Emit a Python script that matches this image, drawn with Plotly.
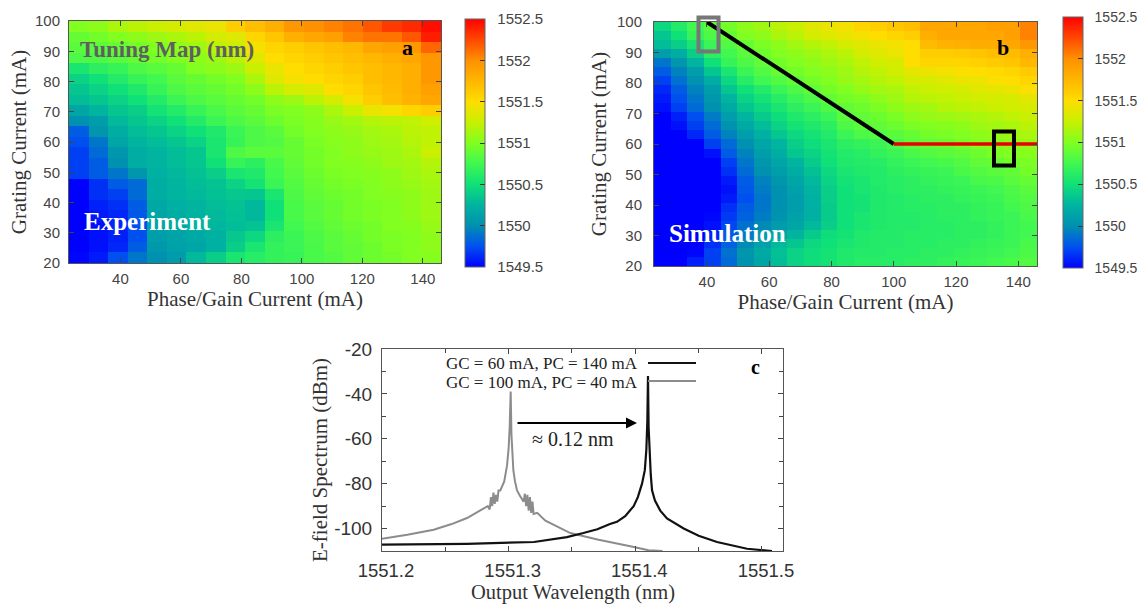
import numpy as np
import plotly.graph_objects as go

W, H = 1142, 604
BASE = 1550.0

# Panel a: offsets from 1550 nm, top row (100 mA) first
exp_rows = [
 [1.0,1.05,1.15,1.2,1.25,1.3,1.35,1.4,1.6,1.7,1.8,1.95,2.0,2.05,2.1,2.2,2.3,2.35,2.45],
 [.9,.95,1.0,1.05,1.1,1.15,1.2,1.3,1.35,1.55,1.65,1.8,1.85,1.9,2.05,2.1,2.1,2.2,2.4],
 [.85,.85,.9,.95,1.0,1.05,1.1,1.2,1.25,1.45,1.55,1.6,1.65,1.7,1.75,1.85,1.9,1.95,2.15],
 [.8,.8,.85,.9,.95,1.0,1.05,1.1,1.2,1.35,1.5,1.55,1.6,1.65,1.7,1.75,1.8,1.85,1.95],
 [.55,.65,.7,.8,.85,.9,1.0,1.05,1.1,1.25,1.4,1.5,1.55,1.6,1.65,1.7,1.75,1.8,1.95],
 [.42,.5,.6,.7,.75,.85,.9,.95,1.0,1.15,1.35,1.45,1.5,1.55,1.6,1.7,1.75,1.8,1.95],
 [.35,.42,.5,.58,.7,.8,.85,.9,.95,1.05,1.2,1.3,1.35,1.5,1.55,1.65,1.72,1.8,1.9],
 [.3,.35,.42,.5,.6,.72,.8,.85,.9,.95,1.05,1.1,1.2,1.3,1.45,1.6,1.7,1.78,1.85],
 [.15,.25,.35,.4,.52,.6,.7,.78,.85,.9,.98,1.0,1.05,1.15,1.25,1.4,1.45,1.55,1.6],
 [.0,.1,.28,.35,.42,.5,.6,.72,.8,.85,.92,.98,1.02,1.08,1.12,1.18,1.2,1.22,1.28],
 [-.2,.05,.2,.3,.35,.42,.5,.58,.72,.8,.85,.95,1.0,1.05,1.08,1.12,1.15,1.2,1.22],
 [-.25,-.1,.15,.25,.3,.35,.42,.55,.7,.8,.82,.9,.98,1.02,1.05,1.1,1.12,1.18,1.22],
 [-.3,-.15,.05,.2,.25,.3,.35,.55,.8,.85,.85,.9,.95,1.0,1.05,1.08,1.1,1.15,1.25],
 [-.3,-.2,.0,.2,.25,.3,.35,.5,.7,.65,.78,.88,.95,1.0,1.02,1.05,1.1,1.12,1.18],
 [-.3,-.2,-.1,.05,.22,.27,.32,.4,.55,.58,.75,.85,.92,.98,1.0,1.02,1.05,1.1,1.15],
 [-.5,-.35,-.2,-.15,.2,.25,.3,.33,.42,.52,.72,.82,.9,.95,.98,1.0,1.05,1.08,1.12],
 [-.5,-.35,-.3,-.15,.2,.25,.28,.32,.36,.35,.55,.8,.88,.92,.95,1.0,1.02,1.05,1.1],
 [-.5,-.4,-.35,-.2,.17,.22,.25,.3,.33,.27,.5,.78,.85,.9,.95,.98,1.0,1.05,1.1],
 [-.5,-.42,-.38,-.22,.15,.2,.24,.28,.32,.27,.5,.78,.85,.9,.95,.98,1.0,1.05,1.1],
 [-.5,-.45,-.38,-.25,.13,.17,.22,.26,.3,.33,.55,.75,.82,.88,.92,.95,1.0,1.02,1.08],
 [-.5,-.45,-.4,-.25,.1,.14,.18,.23,.36,.45,.65,.72,.8,.85,.9,.95,.98,1.0,1.05],
 [-.5,-.45,-.38,-.2,.06,.12,.15,.22,.4,.55,.68,.72,.78,.85,.88,.92,.98,1.0,1.05],
 [-.48,-.42,-.25,-.1,.0,.08,.28,.4,.55,.62,.68,.7,.78,.82,.88,.92,.95,1.0,1.02],
]

# Panel b: offsets from 1550 nm, top row first
sim_rows = [
 [.45,.6,.75,.85,.95,1.05,1.1,1.2,1.25,1.35,1.4,1.45,1.55,1.6,1.65,1.7,1.85,1.85,1.85,1.85,1.9,1.9,2.05],
 [.35,.5,.7,.8,.9,1.0,1.05,1.15,1.2,1.3,1.35,1.4,1.45,1.5,1.55,1.6,1.8,1.85,1.85,1.85,1.85,1.9,2.05],
 [.3,.4,.55,.72,.82,.9,.98,1.05,1.12,1.18,1.22,1.3,1.35,1.4,1.45,1.5,1.72,1.78,1.8,1.82,1.82,1.85,1.95],
 [.1,.2,.4,.65,.75,.85,.92,1.0,1.05,1.1,1.15,1.2,1.3,1.35,1.4,1.5,1.6,1.6,1.62,1.65,1.7,1.72,1.8],
 [-.1,.05,.25,.5,.7,.8,.88,.95,1.0,1.05,1.1,1.15,1.22,1.28,1.32,1.5,1.55,1.55,1.55,1.58,1.62,1.65,1.75],
 [-.2,-.05,.1,.35,.55,.72,.82,.9,.95,1.0,1.05,1.1,1.18,1.22,1.28,1.38,1.42,1.45,1.48,1.5,1.52,1.55,1.62],
 [-.3,-.12,.02,.2,.45,.62,.75,.82,.88,.95,1.0,1.08,1.12,1.18,1.22,1.3,1.32,1.35,1.4,1.42,1.48,1.5,1.55],
 [-.38,-.2,-.05,.1,.35,.5,.6,.72,.8,.88,.95,1.0,1.08,1.12,1.15,1.22,1.25,1.28,1.3,1.35,1.38,1.42,1.48],
 [-.42,-.25,-.1,.05,.25,.42,.52,.62,.72,.8,.88,.95,.98,1.05,1.1,1.18,1.2,1.22,1.25,1.28,1.3,1.32,1.38],
 [-.45,-.3,-.15,.0,.18,.35,.45,.55,.65,.72,.8,.88,.92,.98,1.05,1.1,1.12,1.18,1.2,1.22,1.25,1.28,1.3],
 [-.5,-.4,-.25,-.08,.1,.25,.38,.48,.58,.65,.72,.85,.88,.92,.98,1.05,1.08,1.1,1.12,1.15,1.18,1.22,1.25],
 [-.5,-.45,-.3,-.15,.02,.18,.3,.42,.52,.58,.65,.8,.85,.88,.92,.98,1.0,1.02,1.05,1.1,1.12,1.15,1.2],
 [-.5,-.5,-.38,-.2,-.05,.1,.22,.35,.45,.52,.6,.72,.8,.82,.85,.9,.95,.98,1.0,1.05,1.08,1.1,1.15],
 [-.5,-.5,-.5,-.3,-.15,.0,.15,.25,.4,.48,.55,.65,.68,.72,.78,.85,.88,.9,.95,1.0,1.02,1.05,1.08],
 [-.5,-.5,-.5,-.45,-.2,-.05,.1,.2,.35,.42,.52,.6,.62,.68,.72,.78,.82,.85,.88,.92,.98,1.0,1.02],
 [-.5,-.5,-.5,-.5,-.3,-.1,.05,.15,.25,.38,.5,.58,.6,.62,.68,.72,.75,.78,.82,.88,.9,.95,.98],
 [-.5,-.5,-.5,-.5,-.35,-.15,.0,.1,.2,.32,.45,.55,.58,.6,.65,.68,.7,.72,.78,.82,.85,.88,.95],
 [-.5,-.5,-.5,-.5,-.42,-.2,-.05,.05,.15,.28,.42,.52,.55,.6,.62,.65,.68,.7,.72,.78,.8,.85,.9],
 [-.5,-.5,-.5,-.5,-.45,-.22,-.08,.0,.12,.25,.4,.5,.55,.58,.62,.65,.65,.68,.7,.72,.75,.8,.85],
 [-.5,-.5,-.5,-.5,-.42,-.25,-.1,.0,.1,.22,.4,.5,.52,.58,.6,.62,.65,.65,.68,.7,.72,.78,.82],
 [-.5,-.5,-.5,-.5,-.35,-.2,-.1,.0,.1,.22,.38,.5,.52,.58,.6,.62,.62,.65,.65,.68,.7,.75,.8],
 [-.5,-.5,-.5,-.48,-.32,-.18,-.08,.02,.12,.22,.38,.5,.55,.58,.6,.6,.62,.65,.65,.68,.7,.72,.78],
 [-.5,-.5,-.5,-.45,-.28,-.12,-.02,.08,.15,.28,.4,.5,.55,.58,.6,.6,.62,.62,.65,.65,.68,.72,.75],
 [-.5,-.5,-.5,-.4,-.22,-.08,.05,.15,.25,.38,.48,.52,.58,.6,.6,.62,.62,.62,.65,.65,.68,.72,.75],
 [-.5,-.5,-.5,-.35,-.18,-.02,.12,.28,.35,.45,.5,.55,.58,.6,.6,.62,.62,.65,.65,.68,.7,.72,.78],
 [-.5,-.5,-.48,-.3,-.12,.05,.18,.32,.42,.48,.52,.58,.6,.6,.62,.62,.65,.65,.68,.7,.72,.75,.8],
 [-.5,-.5,-.4,-.3,-.15,.02,.15,.3,.42,.48,.52,.58,.62,.62,.62,.65,.65,.68,.7,.72,.75,.78,.82],
]

# Panel c: spectra
gc60_wl = [1551.2,1551.267,1551.32,1551.33,1551.34,1551.346,1551.359,1551.37,1551.38,1551.3855,1551.392,1551.3987,1551.402,1551.4053,1551.4075,1551.4087,1551.4095,1551.41,1551.4105,1551.4112,1551.4122,1551.4132,1551.4155,1551.4197,1551.425,1551.4382,1551.45,1551.4645,1551.4882,1551.5079]
gc60_db = [-107.2,-106.8,-106,-105.2,-104.5,-103.8,-102,-100.3,-98,-97,-94.5,-90,-86,-80,-74,-65,-52,-32,-55,-68,-76,-83,-87.5,-92,-95.5,-100,-103.2,-106,-109,-110]
gc100_wl = [1551.2,1551.22,1551.2408,1551.255,1551.2671,1551.2803,1551.2835,1551.285,1551.286,1551.287,1551.288,1551.289,1551.29,1551.291,1551.292,1551.2934,1551.2965,1551.2987,1551.3,1551.3008,1551.3016,1551.3022,1551.3032,1551.3037,1551.305,1551.3066,1551.309,1551.3118,1551.3128,1551.3138,1551.3148,1551.3158,1551.3168,1551.3178,1551.3188,1551.3197,1551.3225,1551.329,1551.3487,1551.371,1551.397,1551.4105,1551.4215]
gc100_db = [-104.5,-102.8,-100.5,-98,-95.3,-91,-90,-91.5,-86,-90,-84,-89,-85,-88,-83,-83,-79,-72,-64,-55,-39,-58,-68,-74,-79,-83,-85.5,-88,-84.5,-90,-85,-92,-86,-93,-88,-93.5,-93,-96.5,-102,-105,-108,-109.7,-110]

x_ticks = [40, 60, 80, 100, 120, 140]
y_ticks = [20, 30, 40, 50, 60, 70, 80, 90, 100]
cb_vals = [1549.5, 1550, 1550.5, 1551, 1551.5, 1552, 1552.5]
cb_text = ["1549.5", "1550", "1550.5", "1551", "1551.5", "1552", "1552.5"]
wl_ticks = [1551.2, 1551.3, 1551.4, 1551.5]
wl_text = ["1551.2", "1551.3", "1551.4", "1551.5"]
db_ticks = [-100, -80, -60, -40, -20]
db_text = ["-100", "-80", "-60", "-40", "-20"]
line_x = [40, 100]
line_y = [100, 60]
flat_x = [100, 146]
flat_y = [60, 60]

cscale = [[0, "#0000ff"], [1/12, "#0050f0"], [1/6, "#0090b0"], [1/4, "#00b4a0"],
          [1/3, "#10e078"], [5/12, "#40f850"], [1/2, "#80ff20"], [7/12, "#c8f000"],
          [2/3, "#ffdd00"], [5/6, "#ff9000"], [1, "#ff0000"]]


def X(p):
    return p / W


def Y(p):
    return 1 - p / H


def dom_x(a, b):
    return [X(a), X(b)]


def dom_y(top, bottom):
    return [Y(bottom), Y(top)]


SANS = "Liberation Sans"
SERIF = "Liberation Serif"
TICK = dict(family=SANS, size=15, color="#444444")
TITLE = dict(family=SERIF, size=21, color="#333333")

fig = go.Figure()


def heat(rows, xa, ya, cb_left, cb_top, cb_bottom, pad, cb_size):
    z = BASE + np.array(rows)[::-1]
    ny, nx = z.shape
    xc = 23 + (123 / nx) * (np.arange(nx) + 0.5)
    yc = 20 + (80 / ny) * (np.arange(ny) + 0.5)
    fig.add_trace(go.Heatmap(
        x=xc, y=yc, z=z, xaxis=xa, yaxis=ya, zmin=1549.5, zmax=1552.5,
        colorscale=cscale, zsmooth=False, showscale=True,
        colorbar=dict(
            x=X(cb_left), xanchor="left", thickness=20, thicknessmode="pixels", xpad=0, ypad=0,
            y=Y(cb_bottom), yanchor="bottom", lenmode="pixels", len=cb_bottom - cb_top,
            tickmode="array", tickvals=cb_vals, ticktext=[pad + t for t in cb_text], ticks="inside", ticklen=5,
            tickcolor="#333333", tickfont=dict(family=SANS, size=cb_size, color="#444444"),
            outlinecolor="#666666", outlinewidth=1, borderwidth=0)))


heat(exp_rows, "x", "y", 465, 19, 267, "\u00a0\u00a0", 15)
heat(sim_rows, "x2", "y2", 1063, 17, 268, "\u00a0\u00a0", 14)

fig.add_trace(go.Scatter(x=line_x, y=line_y, mode="lines", xaxis="x2", yaxis="y2",
                         line=dict(color="black", width=4), showlegend=False))
fig.add_trace(go.Scatter(x=flat_x, y=flat_y, mode="lines", xaxis="x2", yaxis="y2",
                         line=dict(color="#e80000", width=3.5), showlegend=False))
fig.add_trace(go.Scatter(x=gc100_wl, y=gc100_db, mode="lines", xaxis="x3", yaxis="y3",
                         line=dict(color="#8c8c8c", width=2), showlegend=False))
fig.add_trace(go.Scatter(x=gc60_wl, y=gc60_db, mode="lines", xaxis="x3", yaxis="y3",
                         line=dict(color="#111111", width=2.2), showlegend=False))

frame = dict(showline=True, linecolor="#555555", linewidth=1, mirror="allticks", ticks="inside",
             ticklen=5, tickcolor="#444444", showgrid=False, zeroline=False, tickfont=TICK)


def xaxis(domain, anchor):
    return dict(frame, domain=domain, anchor=anchor, range=[23, 146], tickmode="array",
                tickvals=x_ticks, ticklabelstandoff=2,
                title=dict(text="Phase/Gain Current (mA)", font=TITLE, standoff=5))


def yaxis(domain, anchor, labelgap, standoff):
    return dict(frame, domain=domain, anchor=anchor, range=[20, 100], tickmode="array",
                tickvals=y_ticks, ticklabelstandoff=labelgap,
                title=dict(text="Grating Current (mA)", font=TITLE, standoff=standoff))


fig.update_layout(
    width=W, height=H, margin=dict(l=0, r=0, t=0, b=0, autoexpand=False), autosize=False,
    paper_bgcolor="white", plot_bgcolor="white", showlegend=False,
    xaxis=xaxis(dom_x(69, 441), "y"),
    yaxis=yaxis(dom_y(21, 263), "x", 5, 2),
    xaxis2=xaxis(dom_x(654, 1037), "y2"),
    yaxis2=yaxis(dom_y(22, 266), "x2", 8, 4),
    xaxis3=dict(frame, domain=dom_x(382, 783), anchor="y3", range=[1551.2, 1551.5166], tickmode="array",
                tickvals=wl_ticks, ticktext=wl_text, ticklabelstandoff=3, ticklabelshift=4,
                minor=dict(tickvals=[1551.25, 1551.35, 1551.45], ticks="inside", ticklen=4, tickcolor="#444444"),
                tickfont=dict(family=SANS, size=18.5, color="#333333")),
    yaxis3=dict(frame, domain=dom_y(349, 551), anchor="x3", range=[-110, -20], tickmode="array",
                tickvals=db_ticks, ticktext=db_text, ticklabelstandoff=5,
                minor=dict(tickvals=[-110, -90, -70, -50, -30], ticks="inside", ticklen=4, tickcolor="#444444"),
                tickfont=dict(family=SANS, size=19, color="#333333")),
)


def note(text, x, y, size, color="black", bold=True, anchor="center", angle=0):
    label = f"<b>{text}</b>" if bold else text
    fig.add_annotation(xref="paper", yref="paper", x=X(x), y=Y(y), text=label, showarrow=False,
                       xanchor=anchor, yanchor="middle", textangle=angle,
                       font=dict(family=SERIF, size=size, color=color))


note("Tuning Map (nm)", 167, 49, 23, "#5f5f5f")
note("a", 407, 48, 22)
note("Experiment", 147, 221, 25, "white")
note("b", 1003, 47, 22)
note("Simulation", 727, 233, 25, "white")
note("c", 755, 367, 20)
note("GC = 60 mA, PC = 140 mA", 640, 363, 17, "#222222", False, "right")
note("GC = 100 mA, PC = 40 mA", 640, 382, 17, "#222222", False, "right")
note("\u2248 0.12 nm", 573, 439, 20, "#222222", False)
note("Output Wavelength (nm)", 573, 592, 20.5, "#333333", False)
note("E-field Spectrum (dBm)", 320, 460, 21, "#333333", False, angle=-90)


def box(x0, y0, x1, y1, color, width):
    fig.add_shape(type="rect", xref="paper", yref="paper", x0=X(x0), x1=X(x1), y0=Y(y1), y1=Y(y0),
                  line=dict(color=color, width=width), fillcolor="rgba(0,0,0,0)")


def key(x0, x1, y, color):
    fig.add_shape(type="line", xref="paper", yref="paper", x0=X(x0), x1=X(x1), y0=Y(y), y1=Y(y),
                  line=dict(color=color, width=2))


box(698.5, 17.5, 718.5, 51.5, "#777777", 4)
box(994, 131.5, 1014, 165.5, "black", 4)
key(648, 696, 363, "#111111")
key(648, 696, 381, "#8c8c8c")
fig.add_annotation(xref="paper", yref="paper", x=X(637), y=Y(423), ax=-121, ay=0, text="", showarrow=True,
                   arrowhead=2, arrowsize=1.1, arrowwidth=2, arrowcolor="black")

fig.write_html("out.html", config={"displayModeBar": False},
               post_script="document.body.style.margin='0';document.body.style.overflow='hidden';")
